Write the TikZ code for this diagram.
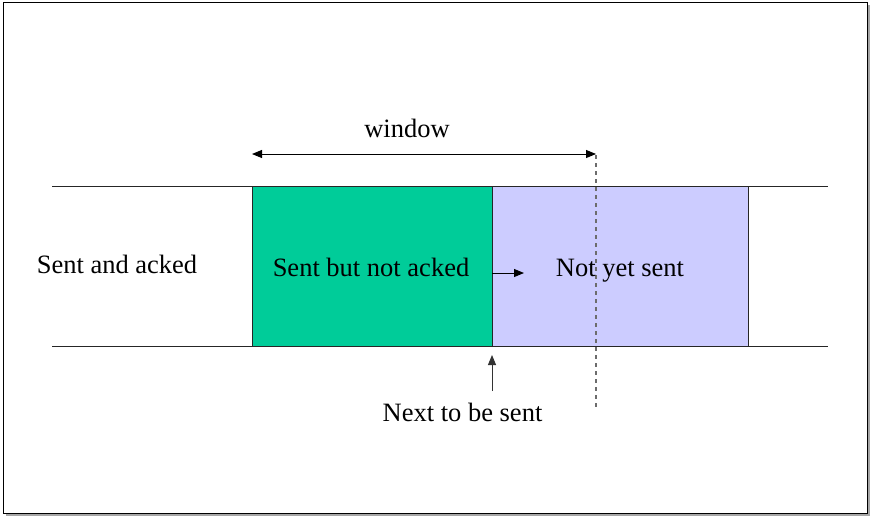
\documentclass[tikz,border=0pt]{standalone}
\usepackage{fontspec}
\setmainfont{Liberation Serif}
\usetikzlibrary{arrows.meta}
\definecolor{sentgreen}{RGB}{0,204,153}
\definecolor{notsent}{RGB}{204,204,255}
\tikzset{
  lbl/.style={font=\fontsize{26.5}{32}\selectfont, inner sep=0pt, anchor=base},
  arr/.style={-{Triangle[length=10pt,width=8pt]}, line width=1pt},
  boundary/.style={line width=1pt, black!85},
}
\begin{document}
\begin{tikzpicture}[x=1pt,y=-1pt]
\useasboundingbox (0,0) rectangle (872,517);
% frame with shadow
\fill[gray!70] (6,5) rectangle (870,516);
\draw[fill=white, line width=0.8pt] (3,2) rectangle (867,513);
% boxes
\fill[sentgreen] (252,186) rectangle (492,346);
\fill[notsent] (492,186) rectangle (748,346);
\draw[boundary] (252,186) -- (252,346);
\draw[boundary] (492,186) -- (492,346);
\draw[boundary] (748,186) -- (748,346);
\coordinate (tl) at (52,186); \coordinate (tr) at (828,186);
\coordinate (bl) at (52,346); \coordinate (br) at (828,346);
\draw[boundary] (tl) -- (tr);
\draw[boundary] (bl) -- (br);
% dashed window edge
\coordinate (dtop) at (596,155); \coordinate (dbot) at (596,410);
\draw[gray!85!black, line width=1.5pt, dash pattern=on 4pt off 4pt] (dtop) -- (dbot);
% window arrow
\coordinate (wl) at (252,154); \coordinate (wr) at (596,154);
\draw[{Triangle[length=10pt,width=8pt]}-{Triangle[length=10pt,width=8pt]}, line width=1pt] (wl) -- (wr);
\node[lbl] (win) at (407,137) {window};
% labels
\node[lbl] (sa) at (117,273) {Sent and acked};
\node[lbl] (sna) at (371,276) {Sent but not acked};
\node[lbl] (nys) at (620,276) {Not yet sent};
% small arrow
\coordinate (sa1) at (492,273); \coordinate (sa2) at (524,273);
\draw[arr] (sa1) -- (sa2);
% next to be sent
\node[lbl] (next) at (462.5,421) {Next to be sent};
\coordinate (n1) at (492,391); \coordinate (n2) at (492,355);
\draw[arr, gray!40!black] (n1) -- (n2);
\end{tikzpicture}
\end{document}
